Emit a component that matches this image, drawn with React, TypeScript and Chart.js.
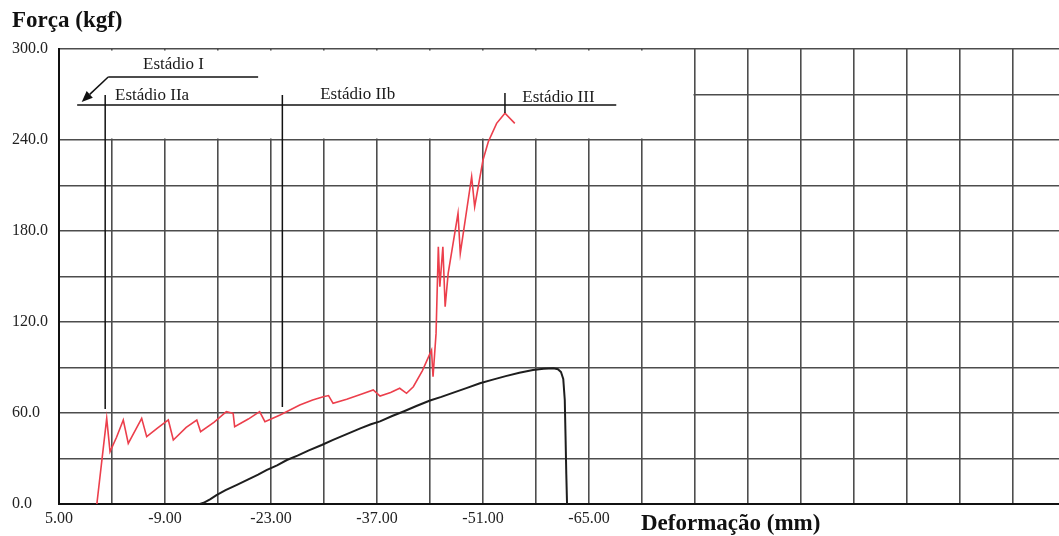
import React, { useEffect, useRef } from 'react';
import { Chart, registerables } from 'chart.js';

Chart.register(...registerables);

// ---- data (deformation in mm, force in kgf) ----
const RED_X = [0, -1.3, -1.74, -2.6, -3.49, -4.15, -5.92, -6.58, -8.0, -9.44, -10.1, -11.8, -13.2, -13.7, -15.5, -17.1, -18.0, -18.2, -20.0, -21.5, -22.2, -24.2, -26.8, -28.5, -29.9, -30.6, -31.2, -33.0, -35.0, -36.5, -37.4, -38.8, -40.0, -40.9, -41.8, -43.0, -44.2, -44.4, -44.8, -45.1, -45.3, -45.7, -46.0, -46.4, -47.7, -48.0, -49.5, -49.9, -51.0, -51.7, -52.8, -53.9, -55.2];
const RED_Y = [0, 56.5, 34.5, 44.0, 55.4, 40.0, 56.5, 44.4, 50.0, 55.4, 42.2, 50.5, 55.4, 47.7, 54.0, 60.9, 59.8, 51.0, 56.0, 60.9, 54.3, 58.7, 65.3, 68.5, 70.7, 71.5, 66.4, 69.0, 72.5, 75.2, 71.2, 73.5, 76.3, 73.0, 77.3, 88.0, 101.5, 83.9, 112.5, 169.6, 143.3, 169.6, 130.1, 152.1, 191.7, 165.3, 215.8, 196.0, 226.8, 238.9, 251.0, 257.6, 251.0];

const BLACK_X = [-13.6, -14.1, -15.0, -15.8, -17.0, -18.5, -20.0, -21.3, -22.4, -23.8, -25.1, -26.5, -28.0, -29.7, -31.2, -33.0, -34.8, -36.2, -37.4, -39.0, -40.5, -42.2, -44.0, -45.5, -47.0, -48.8, -50.6, -52.3, -54.0, -55.8, -57.6, -59.0, -60.3, -60.9, -61.3, -61.6, -61.8, -61.9, -62.0, -62.1];
const BLACK_Y = [0, 0.8, 3.2, 5.9, 9.1, 12.6, 16.2, 19.3, 22.4, 25.5, 29.0, 31.9, 35.4, 38.9, 42.3, 46.1, 49.9, 52.6, 54.5, 58.0, 61.0, 64.6, 68.2, 70.6, 73.3, 76.4, 79.6, 82.0, 84.3, 86.5, 88.3, 89.2, 89.5, 88.9, 87.0, 82.5, 68.6, 45.0, 20.0, 0];

// ---- axes ----
const X_MIN = -128;
const X_MAX = 5;
const X_GRID = [-128, -121, -114, -107, -100, -93, -86, -79, -72, -65, -58, -51, -44, -37, -30, -23, -16, -9, -2, 5];
const X_LABELED = [5, -9, -23, -37, -51, -65];
const Y_MIN = 0;
const Y_MAX = 300;
const Y_STEP = 30;
const Y_LABEL_EVERY = 60;

const Y_TITLE = 'Força (kgf)';
const X_TITLE = 'Deformação (mm)';

// ---- stage annotations (data coordinates) ----
const STAGE_LABELS = ['Estádio I', 'Estádio IIa', 'Estádio IIb', 'Estádio III'];
const STAGE_LABEL_X = [-6.1, -2.4, -29.5, -56.2];
const STAGE_LABEL_Y = [286.8, 266.4, 267.0, 265.2];
// [x1, y1, x2, y2]
const STAGE_LINES = [
  [-1.5, 281.5, -21.3, 281.5],
  [2.6, 263.1, -68.6, 263.1],
  [-1.1, 269.7, -1.1, 62.6],
  [-24.5, 269.7, -24.5, 64.0],
  [-53.9, 271.0, -53.9, 257.8],
];
const ARROW = [-1.5, 281.5, 2.0, 265.1];
// region above 240 left of -79 has no grid
const BLANK_REGION = [5, 300, -79, 240];

const SERIF = '"Liberation Serif", "Times New Roman", serif';

const overlayPlugin = {
  id: 'overlay',
  beforeDatasetsDraw(chart: any) {
    const { ctx } = chart;
    const xs = chart.scales.x;
    const ys = chart.scales.y;
    const l = xs.getPixelForValue(BLANK_REGION[0]) + 1;
    const t = ys.getPixelForValue(BLANK_REGION[1]) + 1.5;
    const r = xs.getPixelForValue(BLANK_REGION[2]) - 1.5;
    const b = ys.getPixelForValue(BLANK_REGION[3]) - 1.5;
    ctx.save();
    ctx.fillStyle = '#ffffff';
    ctx.fillRect(l, t, r - l, b - t);
    // clean stubs poking above the top grid line
    const top = ys.getPixelForValue(Y_MAX);
    ctx.fillRect(l, top - 8, chart.width, 7);
    ctx.restore();
  },
  afterDatasetsDraw(chart: any) {
    const { ctx } = chart;
    const xs = chart.scales.x;
    const ys = chart.scales.y;
    const px = (v: number) => xs.getPixelForValue(v);
    const py = (v: number) => ys.getPixelForValue(v);
    ctx.save();
    ctx.strokeStyle = '#111';
    ctx.lineWidth = 1.5;
    STAGE_LINES.forEach(([x1, y1, x2, y2]) => {
      ctx.beginPath();
      ctx.moveTo(px(x1), py(y1));
      ctx.lineTo(px(x2), py(y2));
      ctx.stroke();
    });
    // arrow
    const ax1 = px(ARROW[0]), ay1 = py(ARROW[1]), ax2 = px(ARROW[2]), ay2 = py(ARROW[3]);
    const ang = Math.atan2(ay2 - ay1, ax2 - ax1);
    const head = 11;
    const bx = ax2 - Math.cos(ang) * head, by = ay2 - Math.sin(ang) * head;
    ctx.beginPath();
    ctx.moveTo(ax1, ay1);
    ctx.lineTo(bx, by);
    ctx.stroke();
    ctx.fillStyle = '#111';
    ctx.beginPath();
    ctx.moveTo(ax2, ay2);
    ctx.lineTo(bx + Math.cos(ang + Math.PI / 2) * 4.5, by + Math.sin(ang + Math.PI / 2) * 4.5);
    ctx.lineTo(bx + Math.cos(ang - Math.PI / 2) * 4.5, by + Math.sin(ang - Math.PI / 2) * 4.5);
    ctx.closePath();
    ctx.fill();
    // stage labels
    ctx.fillStyle = '#1a1a1a';
    ctx.font = `17px ${SERIF}`;
    ctx.textAlign = 'left';
    ctx.textBaseline = 'alphabetic';
    STAGE_LABELS.forEach((t, i) => {
      ctx.fillText(t, px(STAGE_LABEL_X[i]), py(STAGE_LABEL_Y[i]));
    });
    // axis titles
    ctx.fillStyle = '#111';
    ctx.font = `bold 23px ${SERIF}`;
    ctx.fillText(Y_TITLE, 12, 27);
    ctx.fillText(X_TITLE, 641, 530);
    ctx.restore();
  },
};

export default function App() {
  const ref = useRef<HTMLCanvasElement | null>(null);
  useEffect(() => {
    if (!ref.current) return;
    const chart = new Chart(ref.current, {
      type: 'line',
      data: {
        datasets: [
          {
            label: 'Viga 1',
            data: RED_X.map((x, i) => ({ x, y: RED_Y[i] })),
            borderColor: '#ec3f4c',
            borderWidth: 1.6,
            pointRadius: 0,
            tension: 0,
            fill: false,
          },
          {
            label: 'Viga 2',
            data: BLACK_X.map((x, i) => ({ x, y: BLACK_Y[i] })),
            borderColor: '#1e1e1e',
            borderWidth: 2,
            pointRadius: 0,
            tension: 0,
            fill: false,
          },
        ],
      },
      options: {
        responsive: false,
        animation: false,
        devicePixelRatio: 1,
        layout: { padding: { left: 12, top: 49, right: 0, bottom: 0 } },
        plugins: {
          legend: { display: false },
          tooltip: { enabled: false },
          title: { display: false },
        },
        scales: {
          x: {
            type: 'linear',
            reverse: true,
            min: X_MIN,
            max: X_MAX,
            afterBuildTicks: (scale: any) => {
              scale.ticks = X_GRID.map((v) => ({ value: v }));
            },
            afterFit: (scale: any) => {
              scale.height = 32;
            },
            grid: { color: '#4d4d4d', lineWidth: 1.6, drawTicks: false },
            border: { color: '#111', width: 2 },
            ticks: {
              autoSkip: false,
              maxRotation: 0,
              padding: 5,
              color: '#222',
              font: { family: SERIF, size: 16 },
              callback: (v: any) => (X_LABELED.includes(Number(v)) ? Number(v).toFixed(2) : ''),
            },
          },
          y: {
            type: 'linear',
            min: Y_MIN,
            max: Y_MAX,
            afterFit: (scale: any) => {
              scale.width = 47;
            },
            grid: { color: '#4d4d4d', lineWidth: 1.6, drawTicks: false },
            border: { color: '#111', width: 2 },
            ticks: {
              stepSize: Y_STEP,
              crossAlign: 'far',
              padding: 0,
              color: '#222',
              font: { family: SERIF, size: 16 },
              callback: (v: any) => (Number(v) % Y_LABEL_EVERY === 0 ? Number(v).toFixed(1) : ''),
            },
          },
        },
      },
      plugins: [overlayPlugin],
    } as any);
    return () => chart.destroy();
  }, []);
  return (
    <div style={{ position: 'fixed', left: 0, top: 0, width: 1059, height: 536, overflow: 'hidden', background: '#fff' }}>
      <canvas ref={ref} width={1066} height={536} style={{ display: 'block' }} />
    </div>
  );
}
